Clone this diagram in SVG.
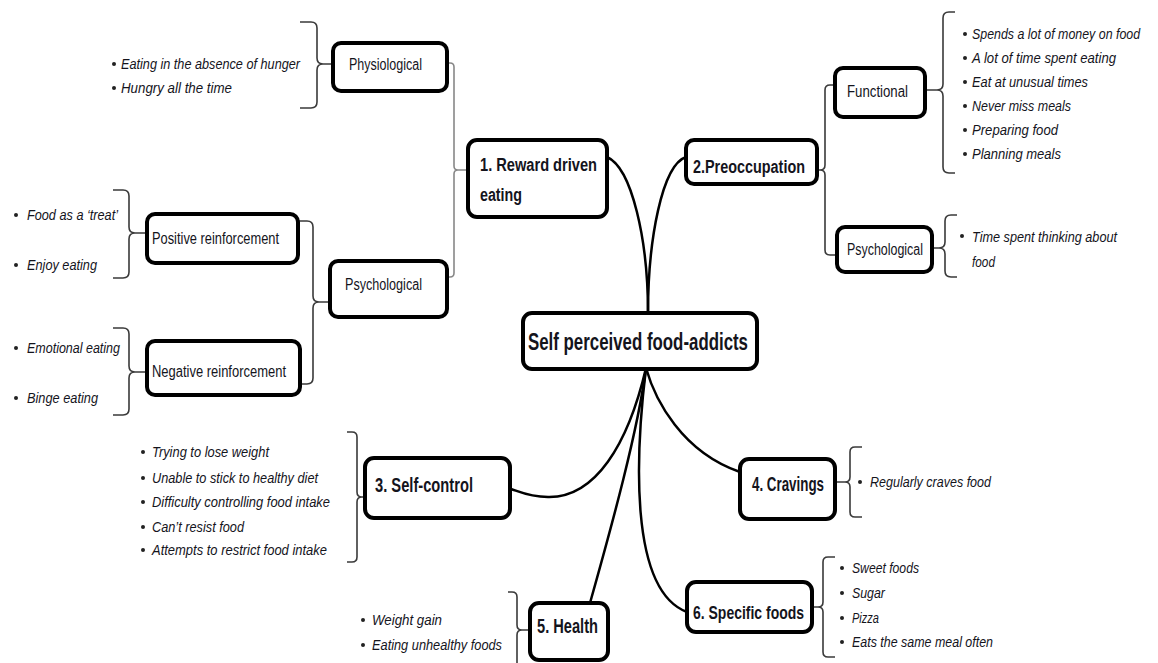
<svg xmlns="http://www.w3.org/2000/svg" width="1158" height="663" viewBox="0 0 1158 663">
  <style>
    .box { fill: #ffffff; stroke: #000000; stroke-width: 4; }
    .lbl { font-family: "Liberation Sans Narrow", "Liberation Sans", sans-serif; fill: #14141c; }
    .head { font-weight: bold; }
    .sub { font-size: 16px; }
    .item { font-family: "Liberation Sans Narrow", "Liberation Sans", sans-serif; font-style: italic; font-size: 14.5px; fill: #14141c; }
    .bul { fill: #222222; }
    .link { fill: none; stroke: #000000; stroke-width: 2.5; }
    .brace { fill: none; stroke: #3a3a3a; stroke-width: 1.6; }
    .brace-grey { fill: none; stroke: #888888; stroke-width: 1.6; }
  </style>

  <rect width="1158" height="663" fill="#ffffff"/>

  <!-- connectors: curves from the hub and the braces joining nodes -->
  <g id="connectors">
    <path class="link" d="M607,157 C632,168 648,240 648,313"/>
    <path class="link" d="M686,157 C662,165 648,240 648,313"/>
    <path class="link" d="M646,368 C628,445 595,498 548,497 C530,497 520,492 511,489"/>
    <path class="link" d="M646,368 C638,430 612,525 590,603"/>
    <path class="link" d="M646,368 C636,450 628,590 687,612"/>
    <path class="link" d="M646,368 C655,400 682,452 740,472"/>

    <path class="brace-grey" d="M447,63 H450 Q454,63 454,67 V166 Q454,170 458,170 H467 M458,170 Q454,170 454,174 V273 Q454,277 450,277 H447"/>
    <path class="brace" d="M298,221 H307 Q313,221 313,227 V296 Q313,302 319,302 H330 M319,302 Q313,302 313,308 V378 Q313,384 307,384 H300"/>
    <path class="brace" d="M835,85 H830 Q825,85 825,90 V165 Q825,170 820,170 H817 M820,170 Q825,170 825,175 V250 Q825,255 830,255 H837"/>

    <path class="brace" d="M300,22 H311 Q317,22 317,28 V58 Q317,64 323,64 H333 M323,64 Q317,64 317,70 V102 Q317,108 311,108 H300"/>
    <path class="brace" d="M113,190 H123 Q129,190 129,196 V227 Q129,233 135,233 H147 M135,233 Q129,233 129,239 V272 Q129,278 123,278 H113"/>
    <path class="brace" d="M113,328 H123 Q129,328 129,334 V366 Q129,372 135,372 H147 M135,372 Q129,372 129,378 V409 Q129,415 123,415 H113"/>
    <path class="brace" d="M955,12 H949 Q943,12 943,18 V84 Q943,90 937,90 H925 M937,90 Q943,90 943,96 V167 Q943,173 949,173 H955"/>
    <path class="brace" d="M957,215 H951 Q945,215 945,221 V242 Q945,248 939,248 H932 M939,248 Q945,248 945,254 V271 Q945,277 951,277 H957"/>
    <path class="brace" d="M347,432 H352 Q357,432 357,437 V492 Q357,497 362,497 H366 M362,497 Q357,497 357,502 V557 Q357,562 352,562 H347"/>
    <path class="brace" d="M508,592 H512 Q517,592 517,597 V625 Q517,630 522,630 H530 M522,630 Q517,630 517,635 V680"/>
    <path class="brace" d="M862,447 H855 Q850,447 850,452 V477 Q850,482 845,482 H835 M845,482 Q850,482 850,487 V512 Q850,517 855,517 H862"/>
    <path class="brace" d="M835,557 H828 Q823,557 823,562 V602 Q823,607 818,607 H812 M818,607 Q823,607 823,612 V652 Q823,657 828,657 H835"/>
  </g>

  <g id="hub">
    <rect class="box" x="523" y="313" width="234" height="56" rx="9"/>
    <text class="lbl head" x="528" y="350" font-size="23" textLength="220" lengthAdjust="spacingAndGlyphs">Self perceived food-addicts</text>
  </g>

  <g id="reward">
    <rect class="box" x="468" y="140" width="139" height="77" rx="9"/>
    <text class="lbl head" x="480" y="171" font-size="18" textLength="117" lengthAdjust="spacingAndGlyphs">1. Reward driven</text>
    <text class="lbl head" x="480" y="201" font-size="18" textLength="42" lengthAdjust="spacingAndGlyphs">eating</text>
  </g>

  <g id="physiological">
    <rect class="box" x="333" y="43" width="114" height="48" rx="8"/>
    <text class="lbl sub" x="349" y="70" textLength="73" lengthAdjust="spacingAndGlyphs">Physiological</text>
    <circle class="bul" cx="114" cy="64" r="2"/>
    <text class="item" x="121" y="69" textLength="179" lengthAdjust="spacingAndGlyphs">Eating in the absence of hunger</text>
    <circle class="bul" cx="114" cy="88" r="2"/>
    <text class="item" x="121" y="93" textLength="111" lengthAdjust="spacingAndGlyphs">Hungry all the time</text>
  </g>

  <g id="psychological-reward">
    <rect class="box" x="330" y="261" width="117" height="56" rx="8"/>
    <text class="lbl sub" x="345" y="290" textLength="77" lengthAdjust="spacingAndGlyphs">Psychological</text>
  </g>

  <g id="positive-reinforcement">
    <rect class="box" x="147" y="214" width="151" height="49" rx="8"/>
    <text class="lbl sub" x="152" y="244" textLength="127" lengthAdjust="spacingAndGlyphs">Positive reinforcement</text>
    <circle class="bul" cx="16" cy="215" r="2"/>
    <text class="item" x="27" y="220" textLength="91" lengthAdjust="spacingAndGlyphs">Food as a ‘treat’</text>
    <circle class="bul" cx="16" cy="265" r="2"/>
    <text class="item" x="27" y="270" textLength="70" lengthAdjust="spacingAndGlyphs">Enjoy eating</text>
  </g>

  <g id="negative-reinforcement">
    <rect class="box" x="147" y="341" width="153" height="54" rx="8"/>
    <text class="lbl sub" x="152" y="377" textLength="134" lengthAdjust="spacingAndGlyphs">Negative reinforcement</text>
    <circle class="bul" cx="16" cy="348" r="2"/>
    <text class="item" x="27" y="353" textLength="93" lengthAdjust="spacingAndGlyphs">Emotional eating</text>
    <circle class="bul" cx="16" cy="398" r="2"/>
    <text class="item" x="27" y="403" textLength="71" lengthAdjust="spacingAndGlyphs">Binge eating</text>
  </g>

  <g id="preoccupation">
    <rect class="box" x="686" y="140" width="131" height="44" rx="8"/>
    <text class="lbl head" x="693" y="173" font-size="18" textLength="112" lengthAdjust="spacingAndGlyphs">2.Preoccupation</text>
  </g>

  <g id="functional">
    <rect class="box" x="835" y="68" width="90" height="49" rx="8"/>
    <text class="lbl sub" x="847" y="97" textLength="61" lengthAdjust="spacingAndGlyphs">Functional</text>
    <circle class="bul" cx="965" cy="34" r="2"/>
    <text class="item" transform="translate(972,39) scale(0.82,1)" x="0" y="0" textLength="205" lengthAdjust="spacingAndGlyphs">Spends a lot of money on food</text>
    <circle class="bul" cx="965" cy="58" r="2"/>
    <text class="item" x="972" y="63" textLength="144" lengthAdjust="spacingAndGlyphs">A lot of time spent eating</text>
    <circle class="bul" cx="965" cy="82" r="2"/>
    <text class="item" x="972" y="87" textLength="116" lengthAdjust="spacingAndGlyphs">Eat at unusual times</text>
    <circle class="bul" cx="965" cy="106" r="2"/>
    <text class="item" x="972" y="111" textLength="99" lengthAdjust="spacingAndGlyphs">Never miss meals</text>
    <circle class="bul" cx="965" cy="130" r="2"/>
    <text class="item" x="972" y="135" textLength="86" lengthAdjust="spacingAndGlyphs">Preparing food</text>
    <circle class="bul" cx="965" cy="154" r="2"/>
    <text class="item" x="972" y="159" textLength="89" lengthAdjust="spacingAndGlyphs">Planning meals</text>
  </g>

  <g id="psychological-preoccupation">
    <rect class="box" x="837" y="227" width="95" height="45" rx="8"/>
    <text class="lbl sub" x="847" y="255" textLength="76" lengthAdjust="spacingAndGlyphs">Psychological</text>
    <circle class="bul" cx="962" cy="236" r="2"/>
    <text class="item" x="972" y="242" textLength="145" lengthAdjust="spacingAndGlyphs">Time spent thinking about</text>
    <text class="item" x="972" y="267" textLength="23" lengthAdjust="spacingAndGlyphs">food</text>
  </g>

  <g id="self-control">
    <rect class="box" x="365" y="458" width="145" height="60" rx="9"/>
    <text class="lbl head" x="375" y="492" font-size="20" textLength="98" lengthAdjust="spacingAndGlyphs">3. Self-control</text>
    <circle class="bul" cx="143" cy="452" r="2"/>
    <text class="item" x="152" y="457" textLength="117" lengthAdjust="spacingAndGlyphs">Trying to lose weight</text>
    <circle class="bul" cx="143" cy="478" r="2"/>
    <text class="item" x="152" y="483" textLength="166" lengthAdjust="spacingAndGlyphs">Unable to stick to healthy diet</text>
    <circle class="bul" cx="143" cy="502" r="2"/>
    <text class="item" x="152" y="507" textLength="178" lengthAdjust="spacingAndGlyphs">Difficulty controlling food intake</text>
    <circle class="bul" cx="143" cy="527" r="2"/>
    <text class="item" x="152" y="532" textLength="92" lengthAdjust="spacingAndGlyphs">Can’t resist food</text>
    <circle class="bul" cx="143" cy="550" r="2"/>
    <text class="item" x="152" y="555" textLength="175" lengthAdjust="spacingAndGlyphs">Attempts to restrict food intake</text>
  </g>

  <g id="cravings">
    <rect class="box" x="740" y="459" width="95" height="60" rx="9"/>
    <text class="lbl head" x="752" y="491" font-size="20" textLength="72" lengthAdjust="spacingAndGlyphs">4. Cravings</text>
    <circle class="bul" cx="860" cy="482" r="2"/>
    <text class="item" x="870" y="487" textLength="121" lengthAdjust="spacingAndGlyphs">Regularly craves food</text>
  </g>

  <g id="health">
    <rect class="box" x="530" y="603" width="78" height="57" rx="9"/>
    <text class="lbl head" x="537" y="633" font-size="20" textLength="61" lengthAdjust="spacingAndGlyphs">5. Health</text>
    <circle class="bul" cx="363" cy="620" r="2"/>
    <text class="item" x="372" y="625" textLength="70" lengthAdjust="spacingAndGlyphs">Weight gain</text>
    <circle class="bul" cx="363" cy="645" r="2"/>
    <text class="item" x="372" y="650" textLength="130" lengthAdjust="spacingAndGlyphs">Eating unhealthy foods</text>
  </g>

  <g id="specific-foods">
    <rect class="box" x="687" y="582" width="125" height="50" rx="9"/>
    <text class="lbl head" x="693" y="619" font-size="19" textLength="111" lengthAdjust="spacingAndGlyphs">6. Specific foods</text>
    <circle class="bul" cx="842" cy="568" r="2"/>
    <text class="item" x="852" y="573" textLength="67" lengthAdjust="spacingAndGlyphs">Sweet foods</text>
    <circle class="bul" cx="842" cy="593" r="2"/>
    <text class="item" x="852" y="598" textLength="33" lengthAdjust="spacingAndGlyphs">Sugar</text>
    <circle class="bul" cx="842" cy="618" r="2"/>
    <text class="item" x="852" y="623" textLength="27" lengthAdjust="spacingAndGlyphs">Pizza</text>
    <circle class="bul" cx="842" cy="642" r="2"/>
    <text class="item" x="852" y="647" textLength="141" lengthAdjust="spacingAndGlyphs">Eats the same meal often</text>
  </g>
</svg>
